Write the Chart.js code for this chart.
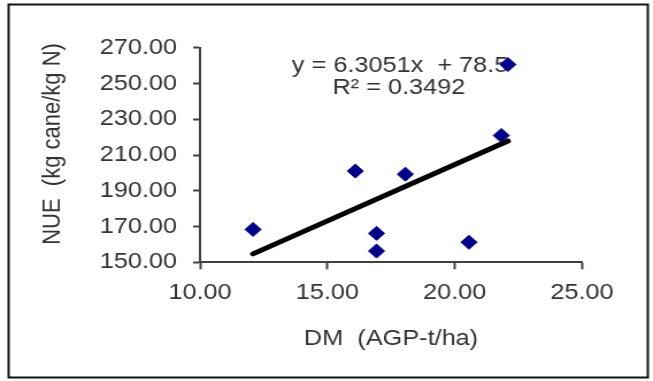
<!DOCTYPE html>
<html><head><meta charset="utf-8">
<script src="https://cdn.jsdelivr.net/npm/chart.js@4.4.1/dist/chart.umd.min.js"></script>
<style>
html,body{margin:0;padding:0;background:#fff;overflow:hidden}
#wrap{width:568px;height:381px;transform:scaleX(1.1496);transform-origin:0 0}
canvas{display:block}
</style></head><body>
<div id="wrap"><canvas id="c" width="568" height="381"></canvas></div>
<script>
// ---- data ----
const dmValues  = [12.08, 16.10, 16.93, 16.93, 18.06, 20.56, 21.83, 22.09];
const nueValues = [168.4, 201.0, 166.2, 156.3, 199.3, 161.2, 220.9, 260.6];
const trendX = [12.08, 22.09];
const trendY = [154.7, 217.8];
const xTicks = [10, 15, 20, 25];
const yTicks = [150, 170, 190, 210, 230, 250, 270];
const equationLines = ['y = 6.3051x  + 78.5', 'R\u00B2 = 0.3492'];
const xTitle = 'DM  (AGP-t/ha)';
const yTitle = 'NUE  (kg cane/kg N)';

const FONT = '"Liberation Sans", Arial, Helvetica, sans-serif';
const TXT = '#333333';
const AX = '#404040';
Chart.defaults.font.family = FONT;

const decor = {
  id: 'decor',
  beforeDraw(chart) {
    const c = chart.ctx;
    c.save(); c.fillStyle = '#fff'; c.fillRect(0, 0, chart.width, chart.height); c.restore();
  },
  beforeDatasetsDraw(chart) {
    const c = chart.ctx;
    c.save();
    c.fillStyle = TXT;
    c.font = '22px ' + FONT;
    c.textAlign = 'center';
    c.textBaseline = 'middle';
    c.fillText(equationLines[0], 348, 65.5);
    c.fillText(equationLines[1], 347, 87.5);
    c.restore();
  },
  afterDraw(chart) {
    const c = chart.ctx;
    c.save();
    c.strokeStyle = '#111';
    c.lineWidth = 2;
    c.strokeRect(7.5, 4.5, 556, 373);
    c.fillStyle = TXT;
    c.font = '22px ' + FONT;
    c.textAlign = 'center';
    c.textBaseline = 'middle';
    c.translate(46, 144);
    c.rotate(-Math.PI / 2);
    c.fillText(yTitle, 0, 0);
    c.restore();
  }
};

new Chart(document.getElementById('c'), {
  type: 'scatter',
  data: {
    datasets: [
      {
        label: 'trend',
        data: trendX.map((x, i) => ({x: x, y: trendY[i]})),
        showLine: true,
        borderColor: '#000',
        borderWidth: 5,
        pointRadius: 0,
        borderCapStyle: 'round',
        fill: false
      },
      {
        label: 'NUE',
        data: dmValues.map((x, i) => ({x: x, y: nueValues[i]})),
        pointStyle: 'rectRot',
        pointRadius: 7,
        backgroundColor: '#00008B',
        borderColor: '#00008B',
        borderWidth: 1
      }
    ]
  },
  options: {
    responsive: false,
    animation: false,
    devicePixelRatio: 1,
    layout: {padding: {left: 10, right: 61.7, top: 47.7, bottom: 0}},
    plugins: {legend: {display: false}, tooltip: {enabled: false}},
    scales: {
      x: {
        type: 'linear',
        min: 10, max: 25,
        afterBuildTicks: s => { s.ticks = xTicks.map(v => ({value: v})); },
        afterFit: s => { s.height = 118.7; },
        ticks: {font: {size: 22}, color: TXT, padding: 10, maxRotation: 0, callback: v => Number(v).toFixed(2)},
        grid: {display: true, drawOnChartArea: false, drawTicks: true, tickLength: 7, tickWidth: 2, tickColor: AX},
        border: {display: true, color: AX, width: 2},
        title: {display: true, text: xTitle, color: TXT, font: {size: 22}, padding: {top: 0, bottom: 29}}
      },
      y: {
        type: 'linear',
        min: 150, max: 270,
        afterBuildTicks: s => { s.ticks = yTicks.map(v => ({value: v})); },
        afterFit: s => { s.width = 164; },
        ticks: {font: {size: 22}, color: TXT, padding: 14, callback: v => Number(v).toFixed(2)},
        grid: {display: true, drawOnChartArea: false, drawTicks: true, tickLength: 6, tickWidth: 2, tickColor: AX},
        border: {display: true, color: AX, width: 2},
        title: {display: false}
      }
    }
  },
  plugins: [decor]
});
</script>
</body></html>
